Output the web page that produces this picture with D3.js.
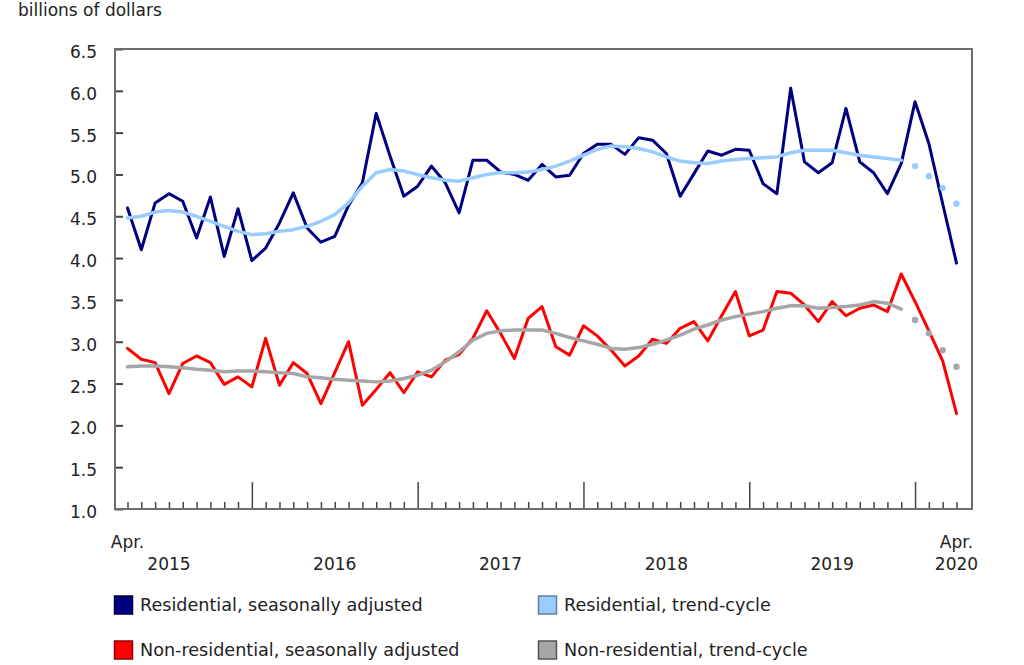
<!DOCTYPE html>
<html>
<head>
<meta charset="utf-8">
<script src="https://cdn.jsdelivr.net/npm/d3@7"></script>
<style>
  html, body { margin: 0; padding: 0; background: #fff; }
  svg { display: block; }
  text { font-family: "DejaVu Sans", Verdana, sans-serif; fill: #222; }
</style>
</head>
<body>
<svg id="chart" width="1024" height="665"></svg>
<script>
// ---- Data (billions of dollars), monthly April 2015 – April 2020 ----
const months = d3.utcMonth.range(new Date(Date.UTC(2015, 3, 1)), new Date(Date.UTC(2020, 4, 1)))
  .map(d3.utcFormat("%Y-%m"));

const residentialSA = [
  4.60, 4.10, 4.66, 4.77, 4.68, 4.24, 4.73, 4.02, 4.59,
  3.97, 4.12, 4.42, 4.78, 4.36, 4.19, 4.26, 4.63, 4.90, 5.73, 5.22, 4.74, 4.86,
  5.10, 4.90, 4.54, 5.17, 5.17, 5.03, 5.00, 4.93, 5.12, 4.97, 4.99, 5.25,
  5.36, 5.36, 5.24, 5.44, 5.41, 5.25, 4.74, 5.01, 5.28, 5.23, 5.30, 5.29,
  4.89, 4.77, 6.03, 5.15, 5.02, 5.14, 5.79, 5.15, 5.02, 4.77, 5.13,
  5.87, 5.37, 4.65, 3.94
];
const residentialTrend = [
  4.48, 4.50, 4.55, 4.57, 4.55, 4.50, 4.44, 4.38, 4.32,
  4.28, 4.29, 4.32, 4.34, 4.38, 4.44, 4.52, 4.66, 4.86, 5.02, 5.06, 5.04, 5.00,
  4.96, 4.93, 4.92, 4.96, 5.00, 5.02, 5.02, 5.03, 5.06, 5.10, 5.16, 5.23,
  5.30, 5.34, 5.33, 5.31, 5.27, 5.21, 5.16, 5.14, 5.13, 5.16, 5.18, 5.19,
  5.20, 5.21, 5.26, 5.29, 5.29, 5.29, 5.26, 5.23, 5.21, 5.19, 5.17
];
const residentialTrendProjected = [5.10, 4.98, 4.84, 4.65];

const nonResidentialSA = [
  2.92, 2.79, 2.75, 2.38, 2.74, 2.83, 2.75, 2.49, 2.58,
  2.46, 3.04, 2.48, 2.75, 2.62, 2.26, 2.63, 3.00, 2.24, 2.43, 2.63, 2.39, 2.64,
  2.58, 2.78, 2.85, 3.04, 3.37, 3.10, 2.80, 3.28, 3.42, 2.94, 2.84, 3.19,
  3.07, 2.90, 2.71, 2.83, 3.03, 2.98, 3.16, 3.24, 3.01, 3.31, 3.60, 3.07,
  3.14, 3.60, 3.58, 3.44, 3.24, 3.48, 3.31, 3.40, 3.44, 3.36, 3.81,
  3.48, 3.13, 2.77, 2.14
];
const nonResidentialTrend = [
  2.70, 2.71, 2.71, 2.70, 2.69, 2.67, 2.66, 2.64, 2.65,
  2.65, 2.64, 2.63, 2.62, 2.58, 2.57, 2.55, 2.54, 2.53, 2.52, 2.53, 2.56, 2.60,
  2.66, 2.76, 2.88, 3.02, 3.10, 3.13, 3.14, 3.14, 3.14, 3.10, 3.05, 3.01,
  2.97, 2.92, 2.91, 2.93, 2.97, 3.02, 3.08, 3.15, 3.20, 3.26, 3.30, 3.33,
  3.36, 3.40, 3.43, 3.43, 3.40, 3.41, 3.42, 3.44, 3.48, 3.46, 3.39
];
const nonResidentialTrendProjected = [3.26, 3.10, 2.90, 2.70];

const yTicks = [1.0, 1.5, 2.0, 2.5, 3.0, 3.5, 4.0, 4.5, 5.0, 5.5, 6.0, 6.5];
const yearLabels = [
  { label: "2015", at: "2015-07" }, { label: "2016", at: "2016-07" },
  { label: "2017", at: "2017-07" }, { label: "2018", at: "2018-07" },
  { label: "2019", at: "2019-07" }, { label: "2020", at: "2020-04" }
];
const monthLabels = [{ label: "Apr.", at: "2015-04" }, { label: "Apr.", at: "2020-04" }];
const yAxisTitle = "billions of dollars";

const series = [
  { name: "Residential, seasonally adjusted", values: residentialSA, color: "#000080", border: "#000040", width: 3 },
  { name: "Residential, trend-cycle", values: residentialTrend, projected: residentialTrendProjected, color: "#99ccff", border: "#5f7f9f", width: 3.5 },
  { name: "Non-residential, seasonally adjusted", values: nonResidentialSA, color: "#ff0000", border: "#900000", width: 3 },
  { name: "Non-residential, trend-cycle", values: nonResidentialTrend, projected: nonResidentialTrendProjected, color: "#a6a6a6", border: "#555555", width: 3.5 }
];

// ---- Layout ----
const svg = d3.select("#chart");
const frame = { left: 115, right: 972, top: 49, bottom: 509 };

const x = d3.scalePoint().domain(months).range([127.5, 956.5]).padding(0);
const y = d3.scaleLinear().domain([1, 6.5]).range([frame.bottom, frame.top]);

const axisColor = "#6e6e6e";

// Y axis title
svg.append("text").attr("x", 18).attr("y", 16)
  .style("font-size", "17px").text(yAxisTitle);

// Y inward ticks
const yAxis = d3.axisRight(y).tickValues(yTicks).tickSize(8).tickFormat("");
const gy = svg.append("g").attr("transform", `translate(${frame.left},0)`).call(yAxis);
gy.select(".domain").remove();
gy.selectAll(".tick line").attr("stroke", "#444").attr("stroke-width", 2);

// Y tick labels
svg.append("g").selectAll("text").data(yTicks).join("text")
  .attr("x", 97).attr("y", d => y(d) + 9)
  .attr("text-anchor", "end")
  .style("font-size", "17px")
  .text(d => d.toFixed(1));

// X ticks: small every month, long in January
const xAxis = d3.axisTop(x).tickSize(7).tickFormat("");
const gx = svg.append("g").attr("transform", `translate(0,${frame.bottom})`).call(xAxis);
gx.select(".domain").remove();
gx.selectAll(".tick line")
  .attr("stroke", "#444").attr("stroke-width", 1.5)
  .attr("y2", d => d.endsWith("-01") ? -27 : -7);

// Frame
svg.append("rect")
  .attr("x", frame.left).attr("y", frame.top)
  .attr("width", frame.right - frame.left).attr("height", frame.bottom - frame.top)
  .attr("fill", "none").attr("stroke", axisColor).attr("stroke-width", 2);

// X labels
svg.append("g").selectAll("text").data(monthLabels).join("text")
  .attr("x", d => x(d.at)).attr("y", 548)
  .attr("text-anchor", "middle").style("font-size", "17px")
  .text(d => d.label);
svg.append("g").selectAll("text").data(yearLabels).join("text")
  .attr("x", d => x(d.at)).attr("y", 570)
  .attr("text-anchor", "middle").style("font-size", "17px")
  .text(d => d.label);

// Lines
const line = d3.line()
  .x((d, i) => x(months[i]))
  .y(d => y(d));

const gLines = svg.append("g");
series.forEach(s => {
  gLines.append("path")
    .datum(s.values)
    .attr("d", line)
    .attr("fill", "none")
    .attr("stroke", s.color)
    .attr("stroke-width", s.width)
    .attr("stroke-linejoin", "round")
    .attr("stroke-linecap", "round");
  if (s.projected) {
    const offset = s.values.length;
    gLines.append("g").selectAll("circle").data(s.projected).join("circle")
      .attr("cx", (d, i) => x(months[offset + i]))
      .attr("cy", d => y(d))
      .attr("r", 3.2)
      .attr("fill", s.color);
  }
});

// Legend
const legendPos = [
  { col: 114, row: 605 }, { col: 538, row: 605 },
  { col: 114, row: 650 }, { col: 538, row: 650 }
];
const lg = svg.append("g").selectAll("g").data(series).join("g")
  .attr("transform", (d, i) => `translate(${legendPos[i].col},${legendPos[i].row})`);
lg.append("rect")
  .attr("x", 0.5).attr("y", -9)
  .attr("width", 18).attr("height", 18)
  .attr("fill", d => d.color)
  .attr("stroke", d => d.border).attr("stroke-width", 1.5);
lg.append("text")
  .attr("x", 26).attr("y", 6)
  .style("font-size", "17.6px")
  .text(d => d.name);
</script>
</body>
</html>
